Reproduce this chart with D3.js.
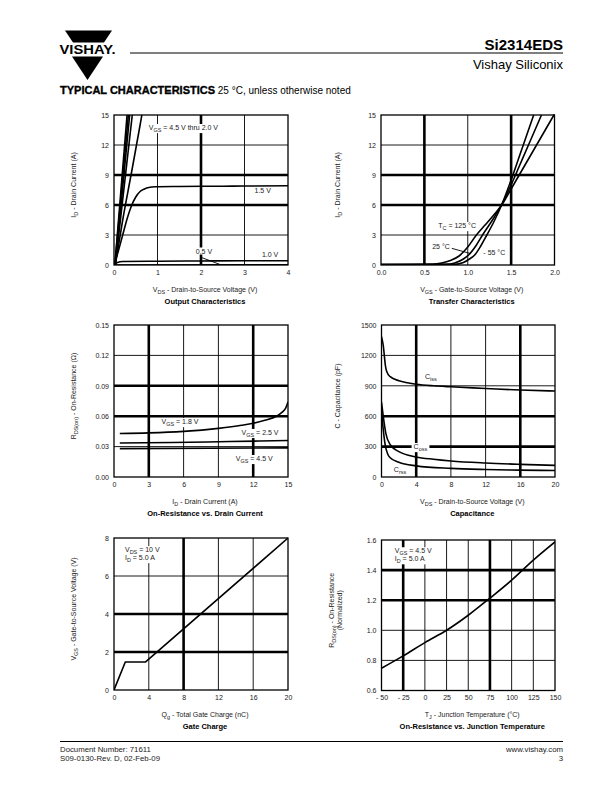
<!DOCTYPE html>
<html><head><meta charset="utf-8">
<script src="https://cdn.jsdelivr.net/npm/d3@7"></script>
<style>
body{margin:0;background:#fff}
svg{display:block}
text{font-family:"Liberation Sans",Arial,Helvetica,sans-serif}
</style>
</head><body>
<svg id="page" width="612" height="792"></svg>
<script>
// ---------------- DATA ----------------
// Output Characteristics (VDS, ID)
const outTicksX = [0, 1, 2, 3, 4];
const outTicksY = [0, 3, 6, 9, 12, 15];
const out_vgs45 = [[0.02, 0], [0.30, 15]];
const out_vgs35 = [[0.02, 0], [0.33, 15]];
const out_vgs30 = [[0.03, 0], [0.36, 15]];
const out_vgs25 = [[0.03, 0], [0.42, 15]];
const out_vgs20 = [[0.03, 0], [0.2, 4.5], [0.4, 9.2], [0.6, 14.0], [0.64, 15]];
const out_vgs15 = [[0, 0], [0.1, 1.4], [0.2, 3.0], [0.3, 4.6], [0.4, 5.9], [0.5, 6.8], [0.6, 7.35], [0.7, 7.6], [0.8, 7.75], [0.95, 7.82], [1.5, 7.85], [2.5, 7.88], [3, 7.9], [4, 7.92]];
const out_vgs10 = [[0, 0], [0.08, 0.25], [0.2, 0.35], [1, 0.38], [2, 0.4], [3, 0.42], [4, 0.42]];
const out_vgs05 = [[0, 0], [4, 0.03]];

// Transfer Characteristics (VGS, ID)
const trTicksX = [0, 0.5, 1.0, 1.5, 2.0];
const trTicksY = [0, 3, 6, 9, 12, 15];
const tr_125 = [[0, 0.05], [0.6, 0.08], [0.7, 0.2], [0.8, 0.45], [0.9, 0.9], [1.0, 1.8], [1.1, 3.0], [1.2, 4.0], [1.3, 5.0], [1.4, 6.1], [1.5, 7.6], [1.6, 9.1], [1.7, 10.6], [1.8, 12.1], [1.9, 13.6], [2.0, 15.1]];
const tr_25 = [[0, 0.05], [0.75, 0.07], [0.85, 0.2], [0.95, 0.6], [1.01, 1.0], [1.1, 2.0], [1.17, 3.0], [1.3, 4.7], [1.4, 6.2], [1.5, 8.0], [1.6, 10.0], [1.7, 12.0], [1.8, 14.0], [1.85, 15]];
const tr_m55 = [[0, 0.05], [0.85, 0.06], [0.95, 0.25], [1.02, 0.6], [1.08, 1.0], [1.15, 1.9], [1.22, 3.0], [1.3, 4.3], [1.4, 6.2], [1.5, 8.5], [1.6, 11.0], [1.7, 13.5], [1.76, 15]];

// On-Resistance vs. Drain Current (ID, RDS)
const ronTicksX = [0, 3, 6, 9, 12, 15];
const ronTicksY = [0, 0.03, 0.06, 0.09, 0.12, 0.15];
const ron_18 = [[0.5, 0.043], [3, 0.0435], [6, 0.045], [9, 0.048], [11, 0.051], [12, 0.053], [13, 0.056], [14, 0.06], [14.5, 0.064], [14.8, 0.068], [15, 0.074]];
const ron_25 = [[0.5, 0.0335], [5, 0.034], [10, 0.035], [15, 0.036]];
const ron_45 = [[0.5, 0.028], [15, 0.0287]];

// Capacitance (VDS, pF)
const capTicksX = [0, 4, 8, 12, 16, 20];
const capTicksY = [0, 300, 600, 900, 1200, 1500];
const cap_iss = [[0, 1385], [0.2, 1300], [0.45, 1100], [0.6, 1040], [1, 990], [2, 950], [3, 930], [4, 916], [6, 900], [8, 890], [12, 874], [16, 858], [20, 848]];
const cap_oss = [[0, 740], [0.2, 600], [0.5, 430], [1, 320], [2, 250], [4, 198], [6, 175], [8, 158], [12, 138], [16, 125], [20, 115]];
const cap_rss = [[0, 650], [0.2, 470], [0.4, 330], [0.7, 230], [1, 190], [2, 145], [4, 110], [8, 85], [12, 74], [16, 68], [20, 64]];

// Gate Charge (Qg, VGS)
const gcTicksX = [0, 4, 8, 12, 16, 20];
const gcTicksY = [0, 2, 4, 6, 8];
const gc_vgs = [[0, 0], [1.3, 1.47], [3.6, 1.47], [20, 8]];

// On-Resistance vs. Junction Temperature (TJ, normalized)
const tjTicksX = [-50, -25, 0, 25, 50, 75, 100, 125, 150];
const tjTicksY = [0.6, 0.8, 1.0, 1.2, 1.4, 1.6];
const tj_ron = [[-50, 0.748], [-25, 0.83], [0, 0.918], [25, 1.0], [50, 1.1], [75, 1.214], [100, 1.333], [125, 1.466], [150, 1.587]];

// ---------------- DRAWING ----------------
const svg = d3.select('#page');
const INK = '#000';
const TXT = '#1a1a1a';

function rich(t, s, fs) {
  const parts = s.split(/(_\{[^}]*\})/);
  let sub = false;
  parts.forEach(p => {
    if (!p) return;
    if (p.startsWith('_{')) {
      t.append('tspan').attr('font-size', fs * 0.78).attr('dy', fs * 0.3).text(p.slice(2, -1));
      sub = true;
    } else {
      const ts = t.append('tspan').text(p);
      if (sub) { ts.attr('dy', -fs * 0.3); sub = false; }
    }
  });
  return t;
}

let clipN = 0;
function drawChart(c) {
  const g = svg.append('g');
  const x = d3.scaleLinear().domain(c.xd).range([c.x0, c.x0 + c.w]);
  const y = d3.scaleLinear().domain(c.yd).range([c.y0 + c.h, c.y0]);

  // gridlines
  c.xt.slice(1, -1).forEach(v => {
    g.append('line').attr('x1', x(v)).attr('x2', x(v)).attr('y1', c.y0).attr('y2', c.y0 + c.h)
      .attr('stroke', INK).attr('stroke-width', c.thickX.includes(v) ? 2.6 : 0.9);
  });
  c.yt.slice(1, -1).forEach(v => {
    g.append('line').attr('y1', y(v)).attr('y2', y(v)).attr('x1', c.x0).attr('x2', c.x0 + c.w)
      .attr('stroke', INK).attr('stroke-width', c.thickY.includes(v) ? 2.6 : 0.9);
  });

  // clip
  const id = 'clip' + (clipN++);
  svg.append('clipPath').attr('id', id).append('rect')
    .attr('x', c.x0).attr('y', c.y0 - 1).attr('width', c.w).attr('height', c.h + 1);

  // series
  c.series.forEach(s => {
    g.append('path').datum(s)
      .attr('d', d3.line().x(d => x(d[0])).y(d => y(d[1])).curve(c.curve || d3.curveMonotoneX))
      .attr('fill', 'none').attr('stroke', INK).attr('stroke-width', 1.6)
      .attr('stroke-linejoin', 'round').attr('clip-path', `url(#${id})`);
  });

  // leader lines
  (c.leaders || []).forEach(l => {
    g.append('line').attr('x1', x(l[0])).attr('y1', y(l[1])).attr('x2', x(l[2])).attr('y2', y(l[3]))
      .attr('stroke', INK).attr('stroke-width', 0.9);
  });

  // labels
  (c.labels || []).forEach(l => {
    const t = g.append('text').attr('x', x(l.x)).attr('y', y(l.y)).attr('font-size', 7).attr('fill', TXT);
    rich(t, l.text, 7);
    if (l.bg) {
      const b = t.node().getBBox();
      g.insert('rect', () => t.node()).attr('x', b.x - 2).attr('y', b.y).attr('width', b.width + 4).attr('height', b.height)
        .attr('fill', '#fff');
    }
  });

  // frame
  g.append('rect').attr('x', c.x0).attr('y', c.y0).attr('width', c.w).attr('height', c.h)
    .attr('fill', 'none').attr('stroke', INK).attr('stroke-width', 1.3);

  // axes
  const xa = g.append('g').attr('transform', `translate(0,${c.y0 + c.h})`)
    .call(d3.axisBottom(x).tickValues(c.xt).tickFormat(c.xf).tickSize(0).tickPadding(5));
  const ya = g.append('g').attr('transform', `translate(${c.x0},0)`)
    .call(d3.axisLeft(y).tickValues(c.yt).tickFormat(c.yf).tickSize(0).tickPadding(5));
  [xa, ya].forEach(a => {
    a.select('.domain').remove();
    a.attr('font-size', 7).attr('font-family', '"Liberation Sans",Arial,sans-serif').attr('color', TXT);
  });

  // titles
  const cx = c.x0 + c.w / 2;
  rich(g.append('text').attr('x', cx + 4).attr('y', c.y0 + c.h + 26.5).attr('text-anchor', 'middle')
    .attr('font-size', 7).attr('fill', TXT), c.xTitle, 7);
  g.append('text').attr('x', cx + 4).attr('y', c.y0 + c.h + 38.5).attr('text-anchor', 'middle')
    .attr('font-size', 7.5).attr('font-weight', 'bold').attr('fill', INK).text(c.title);
  c.yTitle.forEach((yt, i) => {
    const tx = c.yTitleX + i * 8, ty = c.y0 + c.h / 2 - 5;
    rich(g.append('text').attr('transform', `translate(${tx},${ty}) rotate(-90)`).attr('text-anchor', 'middle')
      .attr('font-size', 7).attr('fill', TXT), yt, 7);
  });
}

const fmt1 = d3.format('.1f'), fmt2 = d3.format('.2f');

drawChart({
  x0: 114, y0: 115, w: 174, h: 150, xd: [0, 4], yd: [0, 15], xt: outTicksX, yt: outTicksY,
  xf: d => d, yf: d => d, thickX: [2], thickY: [6, 9],
  series: [out_vgs45, out_vgs35, out_vgs30, out_vgs25, out_vgs20, out_vgs15, out_vgs10, out_vgs05],
  labels: [
    { text: 'V_{GS} = 4.5 V thru 2.0 V', x: 0.8, y: 13.5, bg: true },
    { text: '1.5 V', x: 3.23, y: 7.25 },
    { text: '0.5 V', x: 1.88, y: 1.15, bg: true },
    { text: '1.0 V', x: 3.4, y: 0.85 }
  ],
  leaders: [[1.98, 0.8, 2.44, 0.05]],
  xTitle: 'V_{DS} - Drain-to-Source Voltage (V)', title: 'Output Characteristics',
  yTitle: ['I_{D} - Drain Current (A)'], yTitleX: 76
});

drawChart({
  x0: 381, y0: 115, w: 173.5, h: 150, xd: [0, 2], yd: [0, 15], xt: trTicksX, yt: trTicksY,
  xf: fmt1, yf: d => d, thickX: [0.5, 1.5], thickY: [6, 9],
  series: [tr_125, tr_25, tr_m55],
  labels: [
    { text: 'T_{C} = 125 °C', x: 0.66, y: 3.7, bg: true },
    { text: '25 °C', x: 0.59, y: 1.65, bg: true },
    { text: '- 55 °C', x: 1.18, y: 1.05, bg: true }
  ],
  leaders: [[0.74, 1.85, 1.03, 1.15]],
  xTitle: 'V_{GS} - Gate-to-Source Voltage (V)', title: 'Transfer Characteristics',
  yTitle: ['I_{D} - Drain Current (A)'], yTitleX: 340
});

drawChart({
  x0: 114, y0: 325, w: 174, h: 152, xd: [0, 15], yd: [0, 0.15], xt: ronTicksX, yt: ronTicksY,
  xf: d => d, yf: fmt2, thickX: [3, 12], thickY: [0.06, 0.09],
  series: [ron_18, ron_25, ron_45],
  labels: [
    { text: 'V_{GS} = 1.8 V', x: 4.1, y: 0.0523, bg: true },
    { text: 'V_{GS} = 2.5 V', x: 11.0, y: 0.0415, bg: true },
    { text: 'V_{GS} = 4.5 V', x: 10.5, y: 0.0158, bg: true }
  ],
  xTitle: 'I_{D} - Drain Current (A)', title: 'On-Resistance vs. Drain Current',
  yTitle: ['R_{DS(on)} - On-Resistance (Ω)'], yTitleX: 76
});

drawChart({
  x0: 381.5, y0: 325, w: 173.5, h: 152, xd: [0, 20], yd: [0, 1500], xt: capTicksX, yt: capTicksY,
  xf: d => d, yf: d => d, thickX: [4, 16], thickY: [300, 600],
  series: [cap_iss, cap_oss, cap_rss],
  labels: [
    { text: 'C_{iss}', x: 5.0, y: 967 },
    { text: 'C_{oss}', x: 3.7, y: 276, bg: true },
    { text: 'C_{rss}', x: 1.42, y: 54 }
  ],
  xTitle: 'V_{DS}  - Drain-to-Source Voltage (V)', title: 'Capacitance',
  yTitle: ['C - Capacitance (pF)'], yTitleX: 340
});

drawChart({
  x0: 114, y0: 538, w: 174, h: 152, xd: [0, 20], yd: [0, 8], xt: gcTicksX, yt: gcTicksY,
  xf: d => d, yf: d => d, thickX: [8], thickY: [2, 4], curve: d3.curveLinear,
  series: [gc_vgs],
  labels: [
    { text: 'V_{DS} = 10 V', x: 1.26, y: 7.26, bg: true },
    { text: 'I_{D} = 5.0 A', x: 1.26, y: 6.84, bg: true }
  ],
  xTitle: 'Q_{g} - Total Gate Charge (nC)', title: 'Gate Charge',
  yTitle: ['V_{GS} - Gate-to-Source Voltage (V)'], yTitleX: 76
});

drawChart({
  x0: 381.5, y0: 540, w: 173.5, h: 150.5, xd: [-50, 150], yd: [0.6, 1.6], xt: tjTicksX, yt: tjTicksY,
  xf: d => d < 0 ? '- ' + (-d) : d, yf: fmt1, thickX: [-25, 75], thickY: [1.2, 1.4],
  series: [tj_ron],
  labels: [
    { text: 'V_{GS} = 4.5 V', x: -34.7, y: 1.512, bg: true },
    { text: 'I_{D} = 5.0 A', x: -34.7, y: 1.459, bg: true }
  ],
  xTitle: 'T_{J} - Junction Temperature (°C)', title: 'On-Resistance vs. Junction Temperature',
  yTitle: ['R_{DS(on)} - On-Resistance', '(Normalized)'], yTitleX: 334
});

// ---------------- HEADER / FOOTER ----------------
const hdr = svg.append('g');
hdr.append('path').attr('d', 'M65,30.5 L112,30.5 L104,42.5 L73,42.5 Z').attr('fill', INK);
hdr.append('text').attr('x', 87.5).attr('y', 54).attr('text-anchor', 'middle').attr('font-size', 13)
  .attr('font-weight', 'bold').attr('textLength', 56).attr('lengthAdjust', 'spacingAndGlyphs')
  .attr('fill', INK).text('VISHAY.');
hdr.append('path').attr('d', 'M72,56.5 L103,56.5 L87.5,80 Z').attr('fill', INK);
hdr.append('line').attr('x1', 130).attr('x2', 563).attr('y1', 53).attr('y2', 53).attr('stroke', INK).attr('stroke-width', 1.2);
hdr.append('text').attr('x', 563).attr('y', 49.5).attr('text-anchor', 'end').attr('font-size', 15)
  .attr('font-weight', 'bold').attr('fill', INK).text('Si2314EDS');
hdr.append('text').attr('x', 563).attr('y', 68.5).attr('text-anchor', 'end').attr('font-size', 13)
  .attr('fill', INK).text('Vishay Siliconix');
const tc = hdr.append('text').attr('x', 60).attr('y', 94).attr('fill', INK);
tc.append('tspan').attr('font-size', 11).attr('font-weight', 'bold').attr('stroke', INK).attr('stroke-width', 0.35)
  .text('TYPICAL CHARACTERISTICS');
tc.append('tspan').attr('font-size', 10).text(' 25 °C, unless otherwise noted');

const ftr = svg.append('g');
ftr.append('line').attr('x1', 60).attr('x2', 563).attr('y1', 741.5).attr('y2', 741.5).attr('stroke', INK).attr('stroke-width', 1);
ftr.append('text').attr('x', 60).attr('y', 751.5).attr('font-size', 7.8).attr('fill', TXT).text('Document Number: 71611');
ftr.append('text').attr('x', 60).attr('y', 760.5).attr('font-size', 7.8).attr('fill', TXT).text('S09-0130-Rev. D, 02-Feb-09');
ftr.append('text').attr('x', 563).attr('y', 751.5).attr('text-anchor', 'end').attr('font-size', 7.8).attr('fill', TXT).text('www.vishay.com');
ftr.append('text').attr('x', 563).attr('y', 760.5).attr('text-anchor', 'end').attr('font-size', 7.8).attr('fill', TXT).text('3');
</script>
</body></html>
